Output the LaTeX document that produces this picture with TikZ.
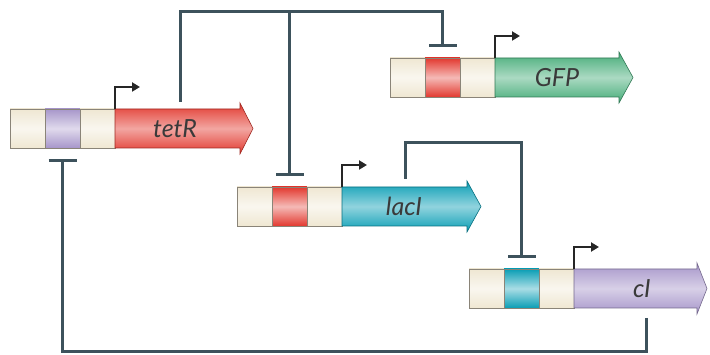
\documentclass[tikz,border=0pt]{standalone}
\usepackage{fontspec}
\setsansfont{Lato}
\usetikzlibrary{positioning,calc,arrows.meta}

\definecolor{wire}{HTML}{3D525C}
\definecolor{edge}{HTML}{8A8478}
\definecolor{beige}{HTML}{EFE7D2}
\definecolor{repred}{HTML}{E2392F}
\definecolor{repviolet}{HTML}{A796CA}
\definecolor{repteal}{HTML}{0A9EB5}
\definecolor{gfpgreen}{HTML}{45AC78}
\definecolor{labelgray}{HTML}{3A3A3A}

\tikzset{
  site/.style={draw=edge, line width=0.6pt, minimum width=35pt, minimum height=39pt,
    inner sep=0pt, outer sep=0pt, top color=#1, bottom color=#1, middle color=#1!35!white},
  gene/.style={draw=#1!70!black, line width=0.6pt, top color=#1, bottom color=#1,
    middle color=#1!45!white},
  genelabel/.style={font=\sffamily\itshape\fontsize{25}{30}\selectfont, text=labelgray},
  promoter/.style={line width=2pt, black!85, -{Triangle[length=8pt,width=9pt]}},
  repress/.style={line width=3pt, wire, -{Bar[width=28pt]}, shorten >=11pt}
}

\begin{document}
\begin{tikzpicture}[x=1pt,y=-1pt]
  \useasboundingbox (0,0) rectangle (710,355);

  % tetR cassette
  \node[site=beige, anchor=west] (t1) at (10,128.5) {};
  \node[site=repviolet, right=0pt of t1] (t2) {};
  \node[site=beige, right=0pt of t2] (t3) {};
  \draw[gene=repred] (t3.north east) -- ++(125,0) -- ++(0,-6) -- ($(t3.east)+(138,0)$)
    -- ($(t3.south east)+(125,6)$) -- ++(0,-6) -- (t3.south east) -- cycle;
  \node[genelabel] (tetR) at (175,128.5) {tetR};
  \draw[promoter] (t3.north east) -- ++(0,-22) -- ++(25,0);

  % GFP reporter
  \node[site=beige, anchor=west] (g1) at (390,77.5) {};
  \node[site=repred, right=0pt of g1] (g2) {};
  \node[site=beige, right=0pt of g2] (g3) {};
  \draw[gene=gfpgreen] (g3.north east) -- ++(124,0) -- ++(0,-6) -- ($(g3.east)+(138,0)$)
    -- ($(g3.south east)+(124,6)$) -- ++(0,-6) -- (g3.south east) -- cycle;
  \node[genelabel] (GFP) at (557,77.5) {GFP};
  \draw[promoter] (g3.north east) -- ++(0,-22) -- ++(25,0);

  % lacI cassette
  \node[site=beige, anchor=west] (l1) at (237,206.5) {};
  \node[site=repred, right=0pt of l1] (l2) {};
  \node[site=beige, right=0pt of l2] (l3) {};
  \draw[gene=repteal] (l3.north east) -- ++(125,0) -- ++(0,-6) -- ($(l3.east)+(139,0)$)
    -- ($(l3.south east)+(125,6)$) -- ++(0,-6) -- (l3.south east) -- cycle;
  \node[genelabel] (lacI) at (404,206.5) {lacI};
  \draw[promoter] (l3.north east) -- ++(0,-22) -- ++(25,0);

  % cI cassette
  \node[site=beige, anchor=west] (c1) at (469,288.5) {};
  \node[site=repteal, right=0pt of c1] (c2) {};
  \node[site=beige, right=0pt of c2] (c3) {};
  \draw[gene=repviolet] (c3.north east) -- ++(123,0) -- ++(0,-6) -- ($(c3.east)+(133,0)$)
    -- ($(c3.south east)+(123,6)$) -- ++(0,-6) -- (c3.south east) -- cycle;
  \node[genelabel] (cI) at (642,288.5) {cI};
  \draw[promoter] (c3.north east) -- ++(0,-22) -- ++(25,0);

  % repression wiring
  \coordinate (tetRout) at (180,101);
  \coordinate (lacIout) at (405,179);
  \coordinate (cIout) at (646,318);
  \draw[repress, line cap=rect] (tetRout) -- (tetRout |- 0,12) -| (g2.north);
  \draw[repress] (l2.north |- 0,12) -- (l2.north);
  \draw[repress] (lacIout) -- (lacIout |- 0,143) -| (c2.north);
  \draw[repress] (cIout) -- (cIout |- 0,352) -| (t2.south);
\end{tikzpicture}
\end{document}
